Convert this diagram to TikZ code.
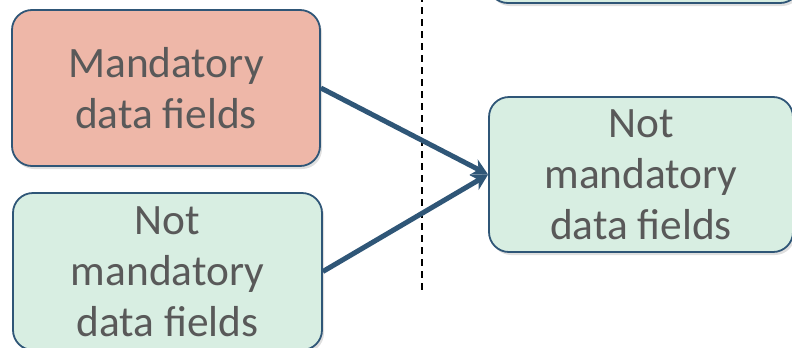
\documentclass[tikz,border=0pt]{standalone}
\usepackage{fontspec}
\setmainfont{Carlito}
\usetikzlibrary{arrows.meta,shadows}

\definecolor{boxline}{HTML}{2F5677}
\definecolor{salmon}{HTML}{EEB7A8}
\definecolor{mint}{HTML}{D8EEE2}
\definecolor{textgrey}{HTML}{595959}

\tikzset{
  field/.style={draw=boxline, line width=1.8bp, rounded corners=20bp,
    align=center, text=textgrey, font=\fontsize{43.5}{51}\selectfont,
    inner sep=0pt, drop shadow={opacity=0.25, shadow xshift=2bp, shadow yshift=-3bp}},
  link/.style={draw=boxline, line width=5bp, -{Stealth[length=16bp,width=17bp]}}
}

\begin{document}
\begin{tikzpicture}[x=1bp, y=-1bp]
      % Frame of the picture
      \useasboundingbox (0, 0) rectangle (792, 347);
      \clip (0, 0) rectangle (792, 347);

      % Coordinates for the separator
      \coordinate (S1) at (422, -5);
      \coordinate (S2) at (422, 292);

      % Draw boxes
      \node[field, fill=mint, minimum width=312bp, minimum height=146bp] (upper) at (644, -70) {};
      \node[field, fill=salmon, minimum width=308bp, minimum height=156bp] (mand) at (166, 88) {Mandatory\\data fields};
      \node[field, fill=mint, minimum width=309bp, minimum height=157bp] (notL) at (167.5, 271.5) {Not\\mandatory\\data fields};
      \node[field, fill=mint, minimum width=304bp, minimum height=155bp] (notR) at (641, 174.5) {Not\\mandatory\\data fields};

      % Dashed separator
      \draw[line width=1.8bp, dash pattern=on 7bp off 5bp] (S1) -- (S2);

      % Arrows
      \draw[link] (mand.east) -- (notR.west);
      \draw[link] (notL.east) -- (notR.west);
  \end{tikzpicture}
\end{document}
